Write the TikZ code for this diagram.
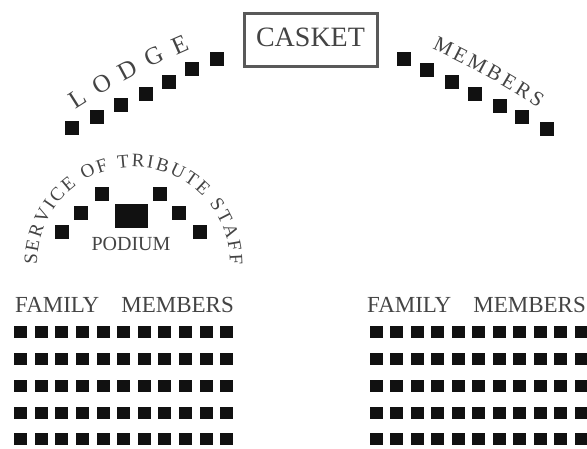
\documentclass[tikz,border=0pt]{standalone}
\usepackage{fontspec}
\setmainfont{Liberation Serif}
\usepackage{xcolor}
\usetikzlibrary{positioning,decorations.text}
\definecolor{seat}{HTML}{111111}
\definecolor{lettering}{HTML}{444444}
\newcommand{\archead}{\fontsize{25}{25}\selectfont}
\newcommand{\arcmembers}{\fontsize{21}{21}\selectfont}
\newcommand{\arcsmall}{\fontsize{19}{19}\selectfont}
\begin{document}
\begin{tikzpicture}[
    x=1pt, y=-1pt,
    seat/.style={draw=none, fill=seat, minimum width=14pt, minimum height=14pt, inner sep=0pt},
    rowseat/.style={draw=none, fill=seat, minimum width=13pt, minimum height=12pt, inner sep=0pt},
    podiumbox/.style={draw=none, fill=seat, minimum width=33pt, minimum height=24pt, inner sep=0pt},
    casketbox/.style={draw=black!65, line width=3pt, minimum width=133pt, minimum height=53pt,
                inner sep=0pt, text depth=6pt, text=lettering, font=\fontsize{28}{28}\selectfont},
    heading/.style={text=lettering, inner sep=0pt, font=\fontsize{23}{23}\selectfont},
    curved/.style={decorate, decoration={text along path, text color=lettering,
                text align={fit to path}, text={#1}}}]
  \useasboundingbox (0,0) rectangle (587,448);
  \node[casketbox] (casket) at (310.5,40) {CASKET};
  % lodge and members
  \foreach \n/\x/\y in {1/72/128, 2/97/117, 3/121/105, 4/146/94, 5/169/82, 6/192/69, 7/217/59}
    \node[seat] (lodge\n) at (\x,\y) {};
  \foreach \n/\x/\y in {1/404/59, 2/427/70, 3/452/82, 4/475/94, 5/500/106, 6/522/117, 7/547/129}
    \node[seat] (member\n) at (\x,\y) {};
  \path[curved={|\archead|LODGE}] (76,110) .. controls (110,88) and (150,66) .. (190,49);
  \path[curved={|\arcmembers|MEMBERS}] (432,49) .. controls (466,65) and (506,86) .. (538,108);
  % podium
  \node[podiumbox] (podium) at (131.5,216) {};
  \foreach \n/\x/\y in {1/62/232, 2/81/213, 3/102/194, 4/160/194, 5/179/213, 6/200/232}
    \node[seat] (staff\n) at (\x,\y) {};
  \node[heading, font=\fontsize{20}{20}\selectfont] (podiumtext) at (131,244) {PODIUM};
  \path[curved={|\arcsmall|SERVICE OF TRIBUTE STAFF}] (37,265) .. controls (37,209) and (80,167) .. (133,167)
    .. controls (186,167) and (230,209) .. (230,265);
  % family rows
  \node[heading] (famleft) at (124.5,305) {FAMILY\hspace{22pt}MEMBERS};
  \node[heading] (famright) at (476.5,305) {FAMILY\hspace{22pt}MEMBERS};
  \foreach \r/\y in {1/332, 2/359, 3/386, 4/413, 5/439}
    \foreach \c in {0,...,10} {
      \node[rowseat] (left\r\c) at (20.6+20.6*\c,\y) {};
      \node[rowseat] (right\r\c) at (376+20.5*\c,\y) {};
    }
\end{tikzpicture}
\end{document}
